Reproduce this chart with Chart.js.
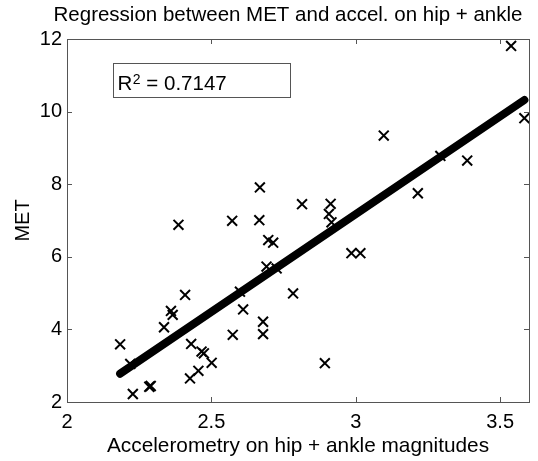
<!DOCTYPE html>
<html>
<head>
<meta charset="utf-8">
<script src="https://cdn.jsdelivr.net/npm/chart.js@4/dist/chart.umd.min.js"></script>
<style>
html,body{margin:0;padding:0;background:#fff;}
#wrap{width:538px;height:461px;position:relative;}
</style>
</head>
<body>
<div id="wrap"><canvas id="c"></canvas></div>
<script>
// Data
const accel = [2.668, 2.386, 2.572, 2.666, 2.697, 2.714, 2.691, 2.726, 2.599, 2.783,
               2.610, 2.409, 2.360, 2.366, 2.336, 2.574, 2.679, 2.679, 2.184, 2.430,
               2.466, 2.474, 2.501, 2.219, 2.455, 2.426, 2.285, 2.290, 2.228, 3.538,
               3.584, 3.097, 3.293, 3.386, 3.215, 2.814, 2.913, 2.907, 2.916, 2.985,
               3.016, 2.893];
const met   = [7.91, 6.88, 6.99, 7.01, 6.46, 6.39, 5.73, 5.68, 5.04, 4.99,
               4.55, 4.95, 4.51, 4.40, 4.06, 3.85, 4.21, 3.87, 3.59, 3.60,
               3.39, 3.34, 3.08, 3.05, 2.86, 2.65, 2.42, 2.44, 2.22, 11.81,
               9.82, 9.34, 8.78, 8.65, 7.75, 7.45, 7.46, 7.18, 6.95, 6.10,
               6.10, 3.07];
const regX = [2.184, 3.584];
const regY = [2.78, 10.32];
const xTicks = [2, 2.5, 3, 3.5];
const yTicks = [2, 4, 6, 8, 10, 12];
const titleText = 'Regression between MET and accel. on hip + ankle';
const xLabel = 'Accelerometry on hip + ankle magnitudes';
const yLabel = 'MET';
const r2Text = '0.7147';

const FONT = "'Liberation Sans', Arial, Helvetica, sans-serif";
Chart.defaults.font.family = FONT;
Chart.defaults.font.size = 20;
Chart.defaults.color = '#000';

const boxPlugin = {
  id: 'matlabBox',
  afterDraw(chart) {
    const {ctx, chartArea: a, scales: {x, y}} = chart;
    ctx.save();
    // title
    ctx.fillStyle = '#000';
    ctx.font = '20.5px ' + FONT;
    ctx.textAlign = 'center';
    ctx.textBaseline = 'middle';
    ctx.fillText(titleText, (a.left + a.right) / 2 - 10, 15);

    ctx.strokeStyle = '#555';
    ctx.lineWidth = 1;
    ctx.strokeRect(Math.round(a.left) + 0.5, Math.round(a.top) + 0.5,
                   Math.round(a.right - a.left), Math.round(a.bottom - a.top));
    const tl = 5;
    ctx.beginPath();
    xTicks.forEach(v => {
      const px = Math.round(x.getPixelForValue(v)) + 0.5;
      ctx.moveTo(px, a.bottom); ctx.lineTo(px, a.bottom - tl);
      ctx.moveTo(px, a.top); ctx.lineTo(px, a.top + tl);
    });
    yTicks.forEach(v => {
      const py = Math.round(y.getPixelForValue(v)) + 0.5;
      ctx.moveTo(a.left, py); ctx.lineTo(a.left + tl, py);
      ctx.moveTo(a.right, py); ctx.lineTo(a.right - tl, py);
    });
    ctx.stroke();

    // R^2 annotation box
    const bx1 = x.getPixelForValue(2.161), bx2 = x.getPixelForValue(2.774);
    const by1 = y.getPixelForValue(11.33), by2 = y.getPixelForValue(10.38);
    ctx.fillStyle = '#fff';
    ctx.fillRect(bx1, by1, bx2 - bx1, by2 - by1);
    ctx.strokeStyle = '#555';
    ctx.strokeRect(Math.round(bx1) + 0.5, Math.round(by1) + 0.5, Math.round(bx2 - bx1), Math.round(by2 - by1));
    ctx.fillStyle = '#000';
    ctx.textBaseline = 'alphabetic';
    ctx.textAlign = 'left';
    let tx = x.getPixelForValue(2.175);
    const ty = y.getPixelForValue(10.595);
    ctx.font = '20.5px ' + FONT;
    ctx.fillText('R', tx, ty);
    tx += ctx.measureText('R').width;
    ctx.font = '14px ' + FONT;
    ctx.fillText('2', tx + 0.5, ty - 6);
    tx += ctx.measureText('2').width + 0.5;
    ctx.font = '20.5px ' + FONT;
    ctx.fillText(' = ' + r2Text, tx, ty);
    ctx.restore();
  }
};

new Chart(document.getElementById('c'), {
  type: 'scatter',
  data: {
    datasets: [
      {
        type: 'line',
        data: regX.map((v, i) => ({x: v, y: regY[i]})),
        borderColor: '#000',
        borderWidth: 8,
        borderCapStyle: 'round',
        pointRadius: 0,
        fill: false,
        order: 2
      },
      {
        data: accel.map((v, i) => ({x: v, y: met[i]})),
        pointStyle: 'crossRot',
        pointRadius: 7,
        pointBorderWidth: 2,
        borderColor: '#000',
        backgroundColor: '#000',
        order: 1
      }
    ]
  },
  options: {
    responsive: true,
    maintainAspectRatio: false,
    animation: false,
    events: [],
    layout: {padding: {left: 0, right: 9, top: 39, bottom: 0}},
    plugins: {
      legend: {display: false},
      tooltip: {enabled: false},
      title: {display: false}
    },
    scales: {
      x: {
        type: 'linear',
        min: 2, max: 3.6,
        afterBuildTicks: s => { s.ticks = xTicks.map(v => ({value: v})); },
        afterFit: s => { s.height = 59; },
        grid: {display: false, drawTicks: false},
        border: {display: false},
        ticks: {padding: 8, maxRotation: 0, autoSkip: false, color: '#000', font: {size: 20},
                callback: v => String(v)},
        title: {display: true, text: xLabel, color: '#000', font: {size: 20.8}, padding: {top: 0, bottom: 2}}
      },
      y: {
        type: 'linear',
        min: 2, max: 12,
        afterBuildTicks: s => { s.ticks = yTicks.map(v => ({value: v})); },
        afterFit: s => { s.width = 67; },
        grid: {display: false, drawTicks: false},
        border: {display: false},
        ticks: {padding: 5, autoSkip: false, color: '#000', font: {size: 20},
                callback: v => String(v)},
        title: {display: true, text: yLabel, color: '#000', font: {size: 20}, padding: {top: 11, bottom: 0}}
      }
    }
  },
  plugins: [boxPlugin]
});
</script>
</body>
</html>
